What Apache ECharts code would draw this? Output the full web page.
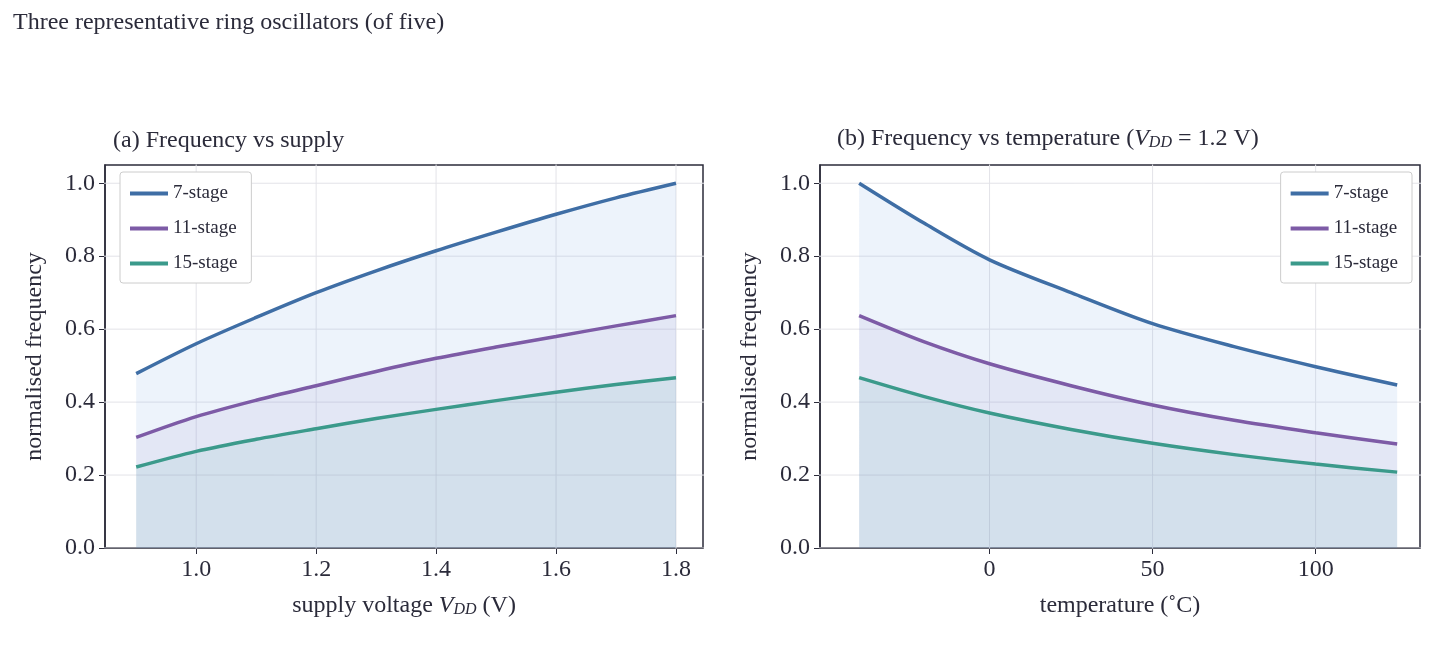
<!DOCTYPE html><html><head><meta charset="utf-8">
<script src="https://cdn.jsdelivr.net/npm/echarts@6/dist/echarts.min.js"></script>
<style>html,body{margin:0;background:#fff}#c{width:1434px;height:648px}</style></head><body><div id="c"></div>
<script>
const names=['7-stage','11-stage','15-stage'];
const colors=['#3f6ea5','#7d5ba6','#3b9a8b'];
const fills=['#6f9be0','#8a6cc0','#3b9a8b'];
const vdd=[0.9,1.0,1.1,1.2,1.3,1.4,1.5,1.6,1.7,1.8];
const vddVals=[
 [0.478,0.560,0.632,0.700,0.760,0.815,0.866,0.915,0.960,1.000],
 [0.303,0.360,0.405,0.445,0.484,0.520,0.551,0.580,0.609,0.637],
 [0.222,0.265,0.298,0.327,0.355,0.380,0.404,0.427,0.448,0.467]];
const temp=[-40,-20,0,25,50,75,100,125];
const tempVals=[
 [1.000,0.890,0.790,0.700,0.615,0.552,0.497,0.447],
 [0.637,0.565,0.505,0.445,0.392,0.350,0.316,0.285],
 [0.467,0.415,0.370,0.325,0.287,0.256,0.230,0.208]];
const yTicks=[0,0.2,0.4,0.6,0.8,1.0];
const vddTicks=[1.0,1.2,1.4,1.6,1.8];
const tempTicks=[0,50,100];
const F='"Liberation Serif", serif', TC='#2b2b3a';
const rich={i:{fontStyle:'italic',fontSize:24,fontFamily:F,color:TC},s:{fontStyle:'italic',fontSize:16,fontFamily:F,color:TC,padding:[8,0,0,0]},n:{fontSize:24,fontFamily:F,color:TC}};
function xAxis(gi,min,max,ticks,name,dec){return {type:'value',gridIndex:gi,min,max,name,nameLocation:'middle',nameGap:46,
 nameTextStyle:{fontSize:24,fontFamily:F,color:TC,rich},
 axisLine:{show:true,onZero:false,lineStyle:{color:'#2b2b3a',width:1.5}},
 axisTick:{show:true,customValues:ticks,length:6,lineStyle:{color:'#2b2b3a'}},
 axisLabel:{customValues:ticks,fontSize:24,fontFamily:F,color:TC,margin:10,formatter:v=>v.toFixed(dec)},
 splitLine:{show:false}};}
function yAxis(gi){return {type:'value',gridIndex:gi,min:0,max:1.05,name:'normalised frequency',nameLocation:'middle',nameGap:58,
 nameTextStyle:{fontSize:24,fontFamily:F,color:TC},
 axisLine:{show:true,onZero:false,lineStyle:{color:'#2b2b3a',width:1.5}},
 axisTick:{show:true,customValues:yTicks,length:6,lineStyle:{color:'#2b2b3a'}},
 axisLabel:{customValues:yTicks,fontSize:24,fontFamily:F,color:TC,margin:10,formatter:v=>v.toFixed(1)},
 splitLine:{show:false}};}
function gl(xi,yi,xs,horiz){
 return xs.map(v=>({type:'line',xAxisIndex:xi,yAxisIndex:yi,silent:true,symbol:'none',z:0,
  lineStyle:{color:'#e3e3e8',width:1},data:horiz?[[-1e3,v],[1e3,v]]:[[v,-1],[v,2]]}));}
const series=[];
[[0,vdd,vddVals],[1,temp,tempVals]].forEach(([g,xs,vals])=>{
 vals.forEach((arr,k)=>series.push({type:'line',name:names[k],xAxisIndex:g,yAxisIndex:g,symbol:'none',smooth:0.3,
  lineStyle:{color:colors[k],width:3.5},itemStyle:{color:colors[k]},areaStyle:{color:fills[k],opacity:[0.12,0.09,0.09][k]},z:3,
  data:xs.map((x,i)=>[x,arr[i]])}));});
series.push(...gl(0,0,vddTicks,false),...gl(0,0,yTicks,true),...gl(1,1,tempTicks,false),...gl(1,1,yTicks,true));
const legendBase={orient:'vertical',itemWidth:38,itemHeight:4,itemGap:16,borderColor:'#ccc',borderWidth:1,borderRadius:3,padding:[12,14,10,10],
 backgroundColor:'#fff',textStyle:{fontSize:19,fontFamily:F,color:TC},data:names.map((n,k)=>({name:n,icon:'rect',itemStyle:{color:colors[k]}}))};
const opt={animation:false,
 title:[{text:'Three representative ring oscillators (of five)',left:8,top:6,textStyle:{fontSize:24,fontWeight:'normal',fontFamily:'"Liberation Serif", serif',color:TC}},
  {text:'(a) Frequency vs supply',left:108,top:124,textStyle:{fontSize:24,fontWeight:'normal',fontFamily:F,color:TC}},
  {text:'(b) Frequency vs temperature ({i|V}{s|DD}{n| = 1.2 V})',left:832,top:122,textStyle:{fontSize:24,fontWeight:'normal',fontFamily:F,color:TC,rich}}],
 grid:[{left:105,top:165,width:598,height:383,show:true,borderColor:'#2b2b3a',borderWidth:1.5},
  {left:820,top:165,width:600,height:383,show:true,borderColor:'#2b2b3a',borderWidth:1.5}],
 xAxis:[xAxis(0,0.848,1.845,vddTicks,'{n|supply voltage }{i|V}{s|DD}{n| (V)}',1),xAxis(1,-52,132,tempTicks,'temperature (˚C)',0)],
 yAxis:[yAxis(0),yAxis(1)],
 legend:[Object.assign({left:120,top:172},legendBase),Object.assign({right:22,top:172},legendBase)],
 series};
echarts.init(document.getElementById('c'),null,{renderer:'canvas'}).setOption(opt);
</script></body></html>
